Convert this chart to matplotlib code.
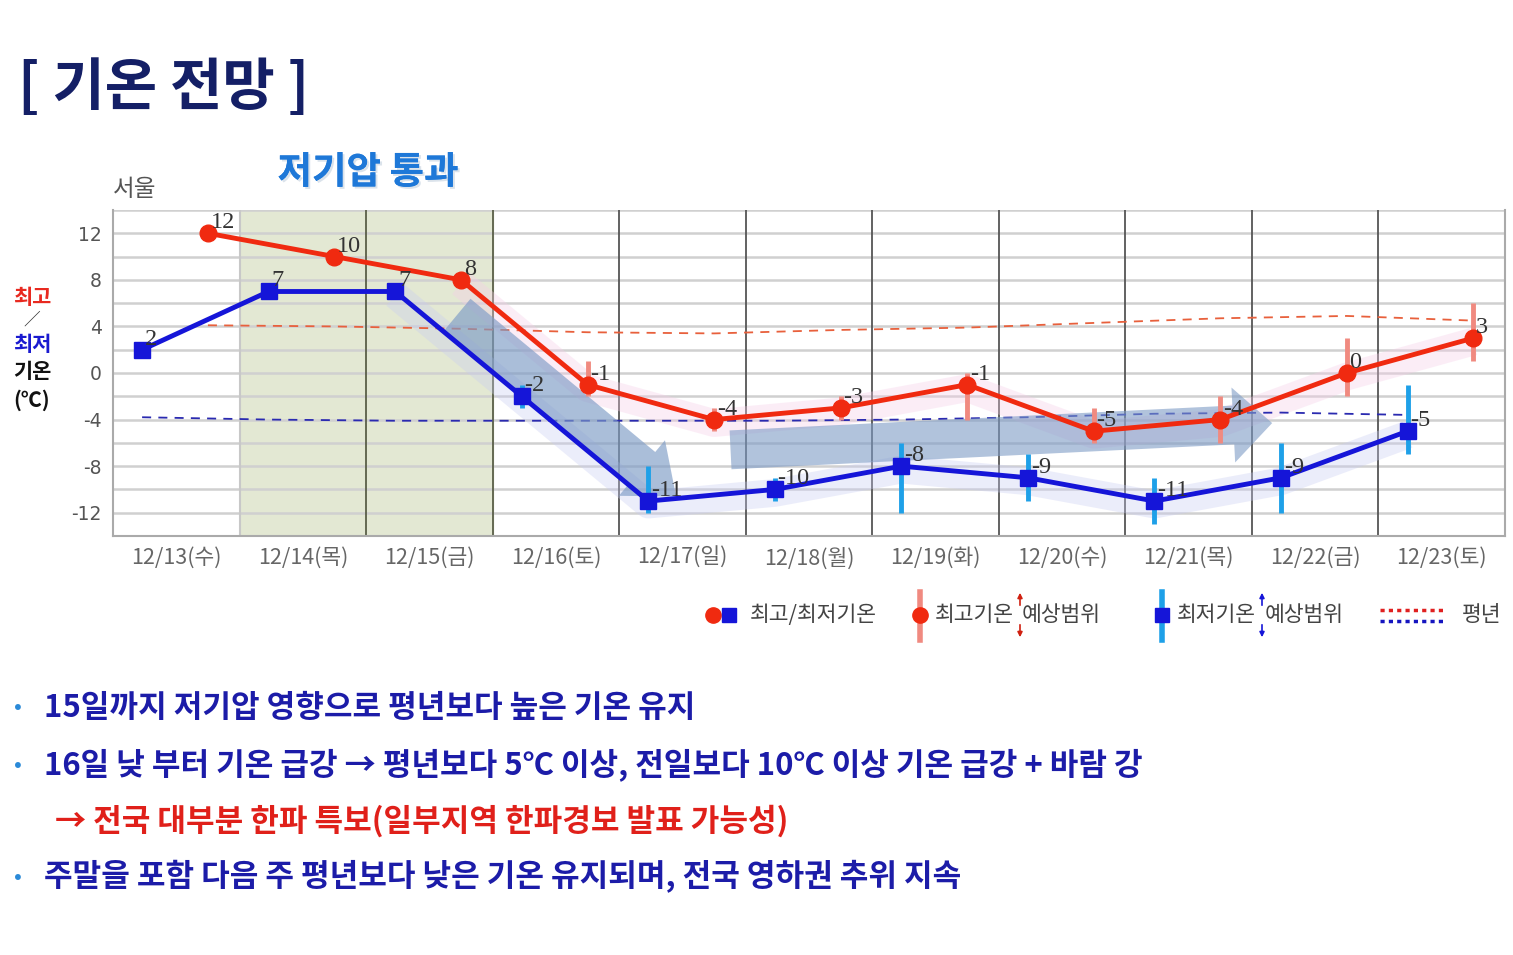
import numpy as np
import matplotlib.pyplot as plt
import matplotlib.patheffects as pe
from matplotlib.patches import FancyArrowPatch
from matplotlib.lines import Line2D

plt.rcParams['font.family'] = ['Noto Sans CJK KR', 'DejaVu Sans']

days = ['12/13(수)', '12/14(목)', '12/15(금)', '12/16(토)', '12/17(일)', '12/18(월)',
        '12/19(화)', '12/20(수)', '12/21(목)', '12/22(금)', '12/23(토)']
t_max = [12, 10, 8, -1, -4, -3, -1, -5, -4, 0, 3]
t_min = [2, 7, 7, -2, -11, -10, -8, -9, -11, -9, -5]
# forecast ranges (None where not shown)
max_hi = [None, None, None, 1, -3, -2, 0, -3, -2, 3, 6]
max_lo = [None, None, None, -2, -5, -4, -4, -6, -6, -2, 1]
min_hi = [None, None, None, -1, -8, -9, -6, -7, -9, -6, -1]
min_lo = [None, None, None, -3, -12, -11, -12, -11, -13, -12, -7]
norm_max = [4.1, 4.0, 3.8, 3.5, 3.4, 3.7, 3.9, 4.3, 4.7, 4.9, 4.5]
norm_min = [-3.8, -4.0, -4.1, -4.1, -4.1, -4.1, -4.0, -3.8, -3.5, -3.4, -3.6]
yticks = [12, 8, 4, 0, -4, -8, -12]

W, H = 1513, 955
fx = lambda px: px / W
fy = lambda py: 1 - py / H

fig = plt.figure(figsize=(W / 100, H / 100), dpi=100)
ax = fig.add_axes([fx(113), fy(536), fx(1505) - fx(113), fy(210) - fy(536)])

n = len(days)
idx = np.arange(n)
xmin = idx - 0.27
xmax = idx + 0.25

ax.set_xlim(-0.5, n - 0.5)
ax.set_ylim(-14, 14)

# green band (low pressure passing)
ax.axvspan(0.5, 2.5, color='#e3e8d3', zorder=0)
for y in np.arange(-12, 15, 2):
    ax.axhline(y, color='#d0d0d0', lw=1.8, zorder=1)
ax.axvline(0.5, color='#c8c8c8', lw=1.5, zorder=1)
for xv in np.arange(1.5, n - 0.5, 1):
    c = '#5a5f48' if xv < 2.6 else '#555555'
    ax.axvline(xv, color=c, lw=1.3, zorder=1)

# soft bands behind the lines
ax.plot(xmax[2:], np.array(t_max[2:]) - 0.3, color='#f6cde8', lw=20, alpha=0.35,
        solid_capstyle='butt', zorder=2)
ax.plot(xmin[2:], np.array(t_min[2:]) - 0.3, color='#c8ccf2', lw=20, alpha=0.35,
        solid_capstyle='butt', zorder=2)

# normals
ax.plot(xmax, norm_max, color='#e8603c', lw=1.3, ls=(0, (5, 4)), zorder=3)
ax.plot(xmin, norm_min, color='#2a2ab0', lw=1.3, ls=(0, (5, 4)), zorder=3)

# big arrows
ax.add_patch(FancyArrowPatch((2.22, 5.0), (3.95, -10.6),
                             arrowstyle='simple,head_length=1.6,head_width=2.6,tail_width=1.5',
                             mutation_scale=20, color='#7d9bc6', alpha=0.65, lw=0,
                             shrinkA=0, shrinkB=0, zorder=4))
ax.add_patch(FancyArrowPatch((4.38, -6.6), (8.66, -4.3),
                             arrowstyle='simple,head_length=1.4,head_width=2.7,tail_width=1.4',
                             mutation_scale=20, color='#7d9bc6', alpha=0.6, lw=0,
                             shrinkA=0, shrinkB=0, zorder=4))

# range bars
for i in range(n):
    if max_hi[i] is not None:
        ax.plot([xmax[i], xmax[i]], [max_lo[i], max_hi[i]], color='#f08a80', lw=3.5,
                zorder=5, solid_capstyle='butt')
    if min_hi[i] is not None:
        ax.plot([xmin[i], xmin[i]], [min_lo[i], min_hi[i]], color='#1ea0e8', lw=3.5,
                zorder=5, solid_capstyle='butt')

ax.plot(xmax, t_max, color='#f02a10', lw=3.5, marker='o', ms=12, zorder=6)
ax.plot(xmin, t_min, color='#1515d8', lw=3.5, marker='s', ms=12, zorder=6)

for x, v in zip(xmax, t_max):
    ax.annotate(str(v), (x, v), xytext=(2, 0), textcoords='offset points',
                ha='left', va='bottom', fontsize=17.5, family='Liberation Serif',
                color='#333333', zorder=7)
for x, v in zip(xmin, t_min):
    ax.annotate(str(v), (x, v), xytext=(2, 0), textcoords='offset points',
                ha='left', va='bottom', fontsize=17.5, family='Liberation Serif',
                color='#333333', zorder=7)

ax.set_xticks(idx)
ax.set_xticklabels(days, fontsize=15.5, color='#666666')
ax.set_yticks(yticks)
ax.set_yticklabels([str(v) for v in yticks], fontsize=13.5, color='#555555',
                   family='DejaVu Sans')
ax.tick_params(length=0, pad=8)
ax.spines['top'].set_visible(False)
for s in ['left', 'bottom', 'right']:
    ax.spines[s].set_color('#aaaaaa')
    ax.spines[s].set_linewidth(1.5)

# titles and labels
fig.text(fx(18), fy(88), '[ 기온 전망 ]', fontsize=41, color='#141f66',
         va='center', ha='left', fontweight='bold')
fig.text(fx(368), fy(172), '저기압 통과', fontsize=27, color='#1e78d8',
         fontweight='bold', ha='center', va='center',
         path_effects=[pe.withSimplePatchShadow(offset=(1.5, -1.5), shadow_rgbFace='#9ab0c8',
                                                alpha=0.35), pe.Normal()])
fig.text(fx(113), fy(189), '서울', fontsize=17, color='#555555', ha='left', va='center')
fig.text(fx(32), fy(298), '최고', fontsize=15, color='#e82a20', fontweight='bold',
         ha='center', va='center')
fig.text(fx(32), fy(320), '／', fontsize=12, color='#333333', ha='center', va='center')
fig.text(fx(32), fy(344), '최저', fontsize=15, color='#1a1ad0', fontweight='bold',
         ha='center', va='center')
fig.text(fx(32), fy(372), '기온', fontsize=15, color='#111111', fontweight='bold',
         ha='center', va='center')
fig.text(fx(32), fy(400), '(℃)', fontsize=15, color='#111111', fontweight='bold',
         ha='center', va='center')

# legend
ly = fy(615)
fs_leg = 15.5
fig.add_artist(Line2D([fx(713)], [ly], marker='o', ms=11, color='#f02a10', ls=''))
fig.add_artist(Line2D([fx(729)], [ly], marker='s', ms=10, color='#1515d8', ls=''))
fig.text(fx(750), ly, '최고/최저기온', fontsize=fs_leg, color='#444444', va='center')
fig.add_artist(Line2D([fx(920), fx(920)], [fy(592), fy(640)], color='#f08a80', lw=4))
fig.add_artist(Line2D([fx(920)], [ly], marker='o', ms=11, color='#f02a10', ls=''))
fig.text(fx(935), ly, '최고기온', fontsize=fs_leg, color='#444444', va='center')
fig.text(fx(1022), ly, '예상범위', fontsize=fs_leg, color='#444444', va='center')
fig.add_artist(Line2D([fx(1162), fx(1162)], [fy(592), fy(640)], color='#1ea0e8', lw=4))
fig.add_artist(Line2D([fx(1162)], [ly], marker='s', ms=10, color='#1515d8', ls=''))
fig.text(fx(1177), ly, '최저기온', fontsize=fs_leg, color='#444444', va='center')
fig.text(fx(1265), ly, '예상범위', fontsize=fs_leg, color='#444444', va='center')
for xa, col in [(1020, '#d02010'), (1262, '#1515d8')]:
    fig.add_artist(FancyArrowPatch((fx(xa), fy(608)), (fx(xa), fy(590)), arrowstyle='-|>',
                                   mutation_scale=7, color=col, lw=1.2,
                                   transform=fig.transFigure))
    fig.add_artist(FancyArrowPatch((fx(xa), fy(622)), (fx(xa), fy(640)), arrowstyle='-|>',
                                   mutation_scale=7, color=col, lw=1.2,
                                   transform=fig.transFigure))
fig.add_artist(Line2D([fx(1380), fx(1445)], [fy(610), fy(610)], color='#e02020', lw=2.5,
                      ls=(0, (1.2, 1.2))))
fig.add_artist(Line2D([fx(1380), fx(1445)], [fy(621), fy(621)], color='#1515c0', lw=2.5,
                      ls=(0, (1.2, 1.2))))
fig.text(fx(1462), ly, '평년', fontsize=fs_leg, color='#444444', va='center')

# bullet notes
notes = [
    (708, '15일까지 저기압 영향으로 평년보다 높은 기온 유지', '#1c1ca8', True),
    (765, '16일 낮 부터 기온 급강 → 평년보다 5℃ 이상, 전일보다 10℃ 이상 기온 급강 + 바람 강', '#1c1ca8', True),
    (821, '→ 전국 대부분 한파 특보(일부지역 한파경보 발표 가능성)', '#e0201a', False),
    (877, '주말을 포함 다음 주 평년보다 낮은 기온 유지되며, 전국 영하권 추위 지속', '#1c1ca8', True),
]
for py, txt, col, bullet in notes:
    if bullet:
        fig.text(fx(18), fy(py), '•', fontsize=17, color='#2a8ad8', va='center', ha='center')
        fig.text(fx(44), fy(py), txt, fontsize=22.4, color=col, va='center', ha='left',
                 fontweight='bold')
    else:
        fig.text(fx(55), fy(py), txt, fontsize=22.4, color=col, va='center', ha='left',
                 fontweight='bold')

fig.savefig('out.png', dpi=100)
